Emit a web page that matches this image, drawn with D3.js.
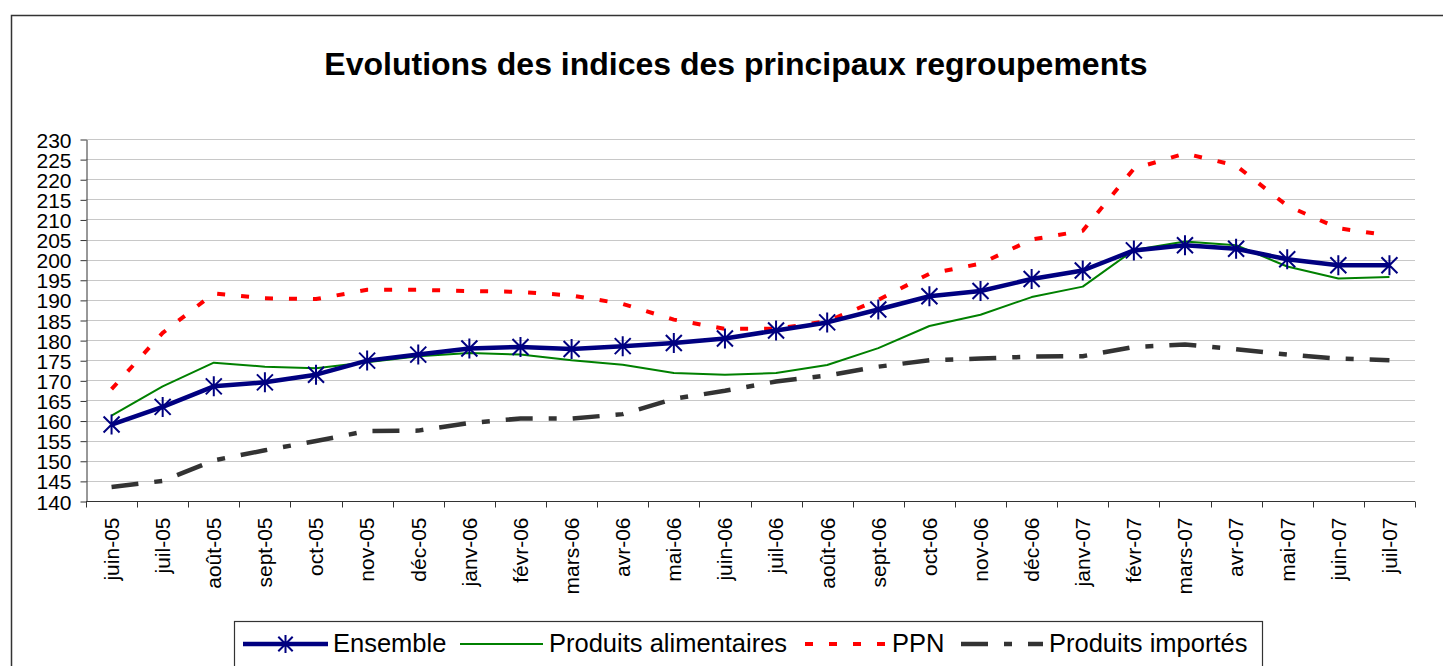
<!DOCTYPE html>
<html>
<head>
<meta charset="utf-8">
<script src="https://cdn.jsdelivr.net/npm/d3@7"></script>
<style>
  body { margin: 0; background: #fff; }
  svg text { font-family: Arial, "Liberation Sans", sans-serif; fill: #000; }
</style>
</head>
<body>
<script>
// categories (months)
var months = ["juin-05", "juil-05", "août-05", "sept-05", "oct-05", "nov-05", "déc-05",
  "janv-06", "févr-06", "mars-06", "avr-06", "mai-06", "juin-06", "juil-06", "août-06",
  "sept-06", "oct-06", "nov-06", "déc-06", "janv-07", "févr-07", "mars-07", "avr-07",
  "mai-07", "juin-07", "juil-07"];

var ensemble = [159, 163.4, 168.5, 169.5, 171.4, 174.9, 176.4, 177.9, 178.3, 177.8, 178.5,
  179.3, 180.4, 182.4, 184.4, 187.6, 190.9, 192.2, 195.2, 197.3, 202.3, 203.6, 202.7,
  200.1, 198.6, 198.6];
var alimentaires = [161.2, 168.5, 174.4, 173.4, 173, 174.5, 176, 176.8, 176.4, 175, 173.9,
  171.8, 171.4, 171.8, 173.8, 178, 183.5, 186.3, 190.7, 193.3, 202.4, 204.5, 203.6,
  198.3, 195.3, 195.7];
var ppn = [167.8, 181.8, 191.6, 190.4, 190.2, 192.5, 192.5, 192.2, 192, 191.1, 189,
  185.1, 182.8, 182.8, 184.7, 190, 196.5, 199, 205, 207.2, 222.6, 226.4, 223.4,
  213.4, 207.8, 206];
var importes = [143.5, 145, 150.1, 152.6, 154.9, 157.4, 157.5, 159.4, 160.5, 160.5, 161.6,
  165.4, 167.4, 169.7, 171.2, 173.4, 175, 175.4, 175.9, 176, 178.3, 178.9, 177.7,
  176.4, 175.4, 175];

var yTicks = d3.range(140, 231, 5);

var series = [
  { name: "Ensemble", values: ensemble, color: "#000080", width: 4.5, dash: null, marker: true },
  { name: "Produits alimentaires", values: alimentaires, color: "#008000", width: 2, dash: null },
  { name: "PPN", values: ppn, color: "#ff0000", width: 4, dash: "8,16" },
  { name: "Produits importés", values: importes, color: "#333333", width: 4.5, dash: "27,16,8,16" }
];

function draw() {
  var W = 1443, H = 666;
  var left = 86, right = 1415, plotTop = 139, bottom = 501;

  var svg = d3.select("body").append("svg")
    .attr("width", W).attr("height", H);

  // chart frame
  svg.append("rect")
    .attr("x", 11.5).attr("y", 15.5)
    .attr("width", 1500).attr("height", 700)
    .attr("fill", "none").attr("stroke", "#333").attr("stroke-width", 1.5);

  svg.append("text")
    .attr("x", 736).attr("y", 75)
    .attr("text-anchor", "middle")
    .style("font-size", "32px").style("font-weight", "bold")
    .text("Evolutions des indices des principaux regroupements");

  var x = d3.scaleBand().domain(months).range([left, right]);
  var y = d3.scaleLinear().domain([140, 230]).range([bottom, plotTop]);

  // gridlines
  svg.append("g").selectAll("line")
    .data(yTicks.filter(function(d) { return d > 140; }))
    .enter().append("line")
    .attr("x1", left).attr("x2", right)
    .attr("y1", function(d) { return Math.round(y(d)) + 0.5; })
    .attr("y2", function(d) { return Math.round(y(d)) + 0.5; })
    .attr("stroke", "#c8c8c8").attr("stroke-width", 1.2);

  // y axis
  var yAxis = svg.append("g")
    .attr("transform", "translate(" + (left + 0.5) + ",0.5)")
    .call(d3.axisLeft(y).tickValues(yTicks).tickSize(6).tickPadding(9).tickSizeOuter(0));
  yAxis.selectAll("text").style("font-size", "21px").attr("dy", "0.36em");
  yAxis.selectAll("line, path").attr("stroke", "#333");

  // x axis: ticks at category boundaries
  var xg = svg.append("g").attr("transform", "translate(0," + (bottom + 0.5) + ")");
  xg.append("line").attr("x1", left).attr("x2", right).attr("stroke", "#333");
  xg.selectAll("line.tk")
    .data(d3.range(months.length + 1))
    .enter().append("line").attr("class", "tk")
    .attr("x1", function(i) { return Math.round(left + i * x.bandwidth()) + 0.5; })
    .attr("x2", function(i) { return Math.round(left + i * x.bandwidth()) + 0.5; })
    .attr("y1", 0).attr("y2", 6)
    .attr("stroke", "#333");
  xg.selectAll("text")
    .data(months)
    .enter().append("text")
    .attr("transform", function(d) {
      return "translate(" + (x(d) + x.bandwidth() / 2) + ",16) rotate(-90)";
    })
    .attr("text-anchor", "end")
    .attr("dy", "0.35em")
    .style("font-size", "21px")
    .text(function(d) { return d; });

  var line = d3.line()
    .x(function(d, i) { return x(months[i]) + x.bandwidth() / 2; })
    .y(function(d) { return y(d); });

  // back to front
  [3, 2, 1, 0].forEach(function(k) {
    var s = series[k];
    svg.append("path")
      .datum(s.values)
      .attr("d", line)
      .attr("fill", "none")
      .attr("stroke", s.color)
      .attr("stroke-width", s.width)
      .attr("stroke-dasharray", s.dash)
      .attr("stroke-linejoin", "round");
  });

  function star(g, cx, cy, r, color) {
    var a = r * 0.8;
    g.append("path")
      .attr("d", "M" + cx + "," + (cy - r) + "V" + (cy + r) +
        "M" + (cx - a) + "," + (cy - a) + "L" + (cx + a) + "," + (cy + a) +
        "M" + (cx - a) + "," + (cy + a) + "L" + (cx + a) + "," + (cy - a))
      .attr("stroke", color).attr("stroke-width", 2).attr("fill", "none");
  }

  var mk = svg.append("g");
  ensemble.forEach(function(v, i) {
    star(mk, x(months[i]) + x.bandwidth() / 2, y(v), 10, "#000080");
  });

  // legend
  var lg = svg.append("g");
  lg.append("rect")
    .attr("x", 234.5).attr("y", 621.5).attr("width", 1028).attr("height", 80)
    .attr("fill", "#fff").attr("stroke", "#333").attr("stroke-width", 1.2);

  var legendPos = [
    { x1: 243, x2: 328, tx: 333 },
    { x1: 460, x2: 543, tx: 549 },
    { x1: 805, x2: 887, tx: 892 },
    { x1: 961, x2: 1043, tx: 1049 }
  ];
  series.forEach(function(s, k) {
    var p = legendPos[k];
    lg.append("line")
      .attr("x1", p.x1).attr("x2", p.x2).attr("y1", 644).attr("y2", 644)
      .attr("stroke", s.color).attr("stroke-width", s.width)
      .attr("stroke-dasharray", s.dash);
    if (s.marker) star(lg, (p.x1 + p.x2) / 2, 644, 9, s.color);
    lg.append("text")
      .attr("x", p.tx).attr("y", 652)
      .style("font-size", "25.5px")
      .text(s.name);
  });
}

draw();
</script>
</body>
</html>
